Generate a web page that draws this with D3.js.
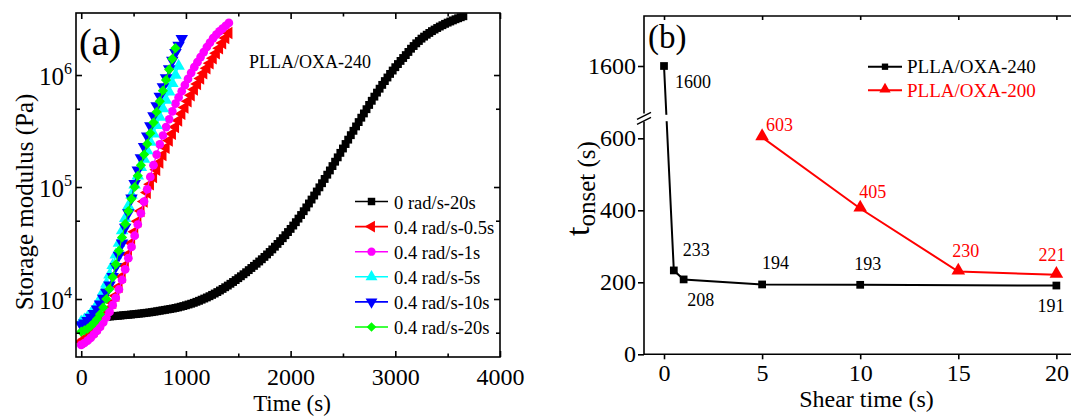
<!DOCTYPE html>
<html>
<head>
<meta charset="utf-8">
<script src="https://cdn.jsdelivr.net/npm/d3@7"></script>
<style>
  body { margin: 0; background: #fff; }
  svg { display: block; }
  text { font-family: "Liberation Serif", "Times New Roman", serif; fill: #000; }
</style>
</head>
<body>
<svg id="chart" width="1071" height="416"></svg>
<script>
const SERIF = '"Liberation Serif", "Times New Roman", serif';

// ---------------- Panel (a): storage modulus G' versus time ----------------
const seriesNames = ["0 rad/s-20s", "0.4 rad/s-0.5s", "0.4 rad/s-1s", "0.4 rad/s-5s", "0.4 rad/s-10s", "0.4 rad/s-20s"];

// time (s)
const time_0rad_20s = [250,275,300,325,350,375,400,425,450,475,500,525,550,575,600,625,650,675,700,725,750,775,800,825,850,875,900,925,950,975,1000,1025,1050,1075,1100,1125,1150,1175,1200,1225,1250,1275,1300,1325,1350,1375,1400,1425,1450,1475,1500,1525,1550,1575,1600,1625,1650,1675,1700,1725,1750,1775,1800,1825,1850,1875,1900,1925,1950,1975,2000,2025,2050,2075,2100,2125,2150,2175,2200,2225,2250,2275,2300,2325,2350,2375,2400,2425,2450,2475,2500,2525,2550,2575,2600,2625,2650,2675,2700,2725,2750,2775,2800,2825,2850,2875,2900,2925,2950,2975,3000,3025,3050,3075,3100,3125,3150,3175,3200,3225,3250,3275,3300,3325,3350,3375,3400,3425,3450,3475,3500,3525,3550,3575,3600,3625,3650];
const time_04_05s = [0,30,60,90,120,150,180,210,240,270,300,330,360,390,420,450,480,510,540,570,600,630,660,690,720,750,780,810,840,870,900,930,960,990,1020,1050,1080,1110,1140,1170,1200,1230,1260,1290,1320,1350,1380,1410];
const time_04_1s = [0,30,60,90,120,150,180,210,240,270,300,330,360,390,420,450,480,510,540,570,600,630,660,690,720,750,780,810,840,870,900,930,960,990,1020,1050,1080,1110,1140,1170,1200,1230,1260,1290,1320,1350,1380,1410];
const time_04_5s = [0,30,60,90,120,150,180,210,240,270,300,330,360,390,420,450,480,510,540,570,600,630,660,690,720,750,780,810,840,870,900,930];
const time_04_10s = [0,30,60,90,120,150,180,210,240,270,300,330,360,390,420,450,480,510,540,570,600,630,660,690,720,750,780,810,840,870,900,930,960];
const time_04_20s = [0,30,60,90,120,150,180,210,240,270,300,330,360,390,420,450,480,510,540,570,600,630,660,690,720,750,780,810,840,870,900];

// log10 of storage modulus G' (Pa)
const logG_0rad_20s = [3.842,3.844,3.846,3.848,3.850,3.852,3.855,3.857,3.859,3.861,3.864,3.866,3.869,3.871,3.874,3.877,3.880,3.883,3.887,3.891,3.895,3.899,3.903,3.907,3.911,3.915,3.920,3.925,3.931,3.937,3.944,3.951,3.958,3.966,3.975,3.984,3.994,4.004,4.014,4.025,4.037,4.049,4.062,4.076,4.090,4.105,4.120,4.136,4.152,4.169,4.186,4.203,4.221,4.239,4.258,4.277,4.296,4.315,4.335,4.355,4.376,4.398,4.420,4.443,4.467,4.492,4.517,4.543,4.570,4.598,4.626,4.656,4.686,4.718,4.750,4.784,4.818,4.853,4.888,4.924,4.960,4.997,5.034,5.072,5.110,5.148,5.187,5.226,5.265,5.305,5.344,5.384,5.423,5.463,5.502,5.541,5.580,5.619,5.657,5.695,5.733,5.770,5.807,5.843,5.878,5.912,5.946,5.978,6.010,6.040,6.070,6.098,6.126,6.152,6.178,6.206,6.235,6.259,6.283,6.304,6.325,6.343,6.360,6.376,6.392,6.406,6.420,6.433,6.445,6.457,6.468,6.478,6.488,6.498,6.507,6.516,6.525];
const logG_04_05s = [3.620,3.640,3.662,3.687,3.715,3.747,3.783,3.823,3.867,3.915,3.967,4.030,4.110,4.200,4.300,4.400,4.500,4.600,4.695,4.785,4.870,4.950,5.025,5.090,5.155,5.220,5.285,5.350,5.415,5.475,5.535,5.595,5.655,5.710,5.765,5.820,5.870,5.920,5.970,6.015,6.060,6.105,6.150,6.195,6.240,6.285,6.330,6.375];
const logG_04_1s = [3.590,3.607,3.628,3.653,3.683,3.715,3.750,3.790,3.835,3.885,3.945,4.010,4.085,4.170,4.265,4.365,4.465,4.565,4.665,4.765,4.870,4.980,5.090,5.195,5.290,5.380,5.460,5.535,5.605,5.675,5.745,5.800,5.855,5.910,5.965,6.020,6.070,6.115,6.160,6.205,6.250,6.290,6.330,6.360,6.390,6.415,6.440,6.465];
const logG_04_5s = [3.797,3.815,3.838,3.866,3.900,3.945,4.000,4.065,4.135,4.215,4.300,4.395,4.500,4.610,4.720,4.830,4.930,5.020,5.100,5.175,5.250,5.325,5.400,5.475,5.550,5.625,5.700,5.775,5.850,5.925,6.000,6.080];
const logG_04_10s = [3.768,3.785,3.808,3.835,3.870,3.910,3.955,4.005,4.060,4.125,4.200,4.290,4.390,4.500,4.640,4.770,4.900,5.030,5.150,5.260,5.360,5.455,5.545,5.635,5.725,5.810,5.895,5.975,6.055,6.130,6.200,6.265,6.325];
const logG_04_20s = [3.708,3.720,3.735,3.757,3.785,3.820,3.865,3.925,4.000,4.090,4.195,4.310,4.430,4.550,4.670,4.785,4.895,5.000,5.100,5.195,5.290,5.385,5.480,5.575,5.670,5.765,5.860,5.955,6.050,6.145,6.240];

const timeTicksA = [0, 1000, 2000, 3000, 4000];
const timeMinorA = [500, 1500, 2500, 3500];
const modulusTicksA = [1e4, 1e5, 1e6];
const modulusMinorA = [5e3, 5e4, 5e5];

// ---------------- Panel (b): onset time versus shear time ----------------
const shearTime240 = [0, 0.5, 1, 5, 10, 20];
const tOnset240 = [1600, 233, 208, 194, 193, 191];
const shearTime200 = [5, 10, 15, 20];
const tOnset200 = [603, 405, 230, 221];
const shearTicksB = [0, 5, 10, 15, 20];
const onsetTicksLowB = [0, 200, 400, 600];
const onsetTicksHighB = [1600];
const legendNamesB = ["PLLA/OXA-240", "PLLA/OXA-200"];

const svg = d3.select("#chart");
const AXIS_W = 1.6;

function styleAxis(g, fontSize) {
  g.attr("font-family", null).attr("font-size", null);
  g.select(".domain").remove();
  g.selectAll(".tick line").attr("stroke", "#000").attr("stroke-width", AXIS_W);
  g.selectAll(".tick text").attr("font-size", fontSize).attr("fill", "#000");
}

// ======================= Panel (a) =======================
const A = { left: 76, right: 500, top: 13, bottom: 357 };
const xA = d3.scaleLinear().domain([-50, 4000]).range([A.left, A.right]);
const yA = d3.scaleLog().domain([3035, 3.58e6]).range([A.bottom, A.top]);
const gA = svg.append("g");

svg.append("defs").append("clipPath").attr("id", "clipA")
  .append("rect").attr("x", A.left).attr("y", A.top)
  .attr("width", A.right - A.left).attr("height", A.bottom - A.top);

const styleA = [
  { color: "#000000", sym: d3.symbolSquare, size: 62, rot: 0 },
  { color: "#ff0000", sym: d3.symbolTriangle, size: 68, rot: -90 },
  { color: "#ff00ff", sym: d3.symbolCircle, size: 60, rot: 0 },
  { color: "#00ffff", sym: d3.symbolTriangle, size: 68, rot: 0 },
  { color: "#0000ff", sym: d3.symbolTriangle, size: 68, rot: 180 },
  { color: "#00ff00", sym: d3.symbolSquare, size: 52, rot: 45 }
];
const timesA = [time_0rad_20s, time_04_05s, time_04_1s, time_04_5s, time_04_10s, time_04_20s];
const logsA = [logG_0rad_20s, logG_04_05s, logG_04_1s, logG_04_5s, logG_04_10s, logG_04_20s];

const seriesA = seriesNames.map((name, i) => ({
  name,
  ...styleA[i],
  points: d3.zip(timesA[i], logsA[i]).map(([t, lg]) => ({ t, g: Math.pow(10, lg) }))
}));

const plotA = gA.append("g").attr("clip-path", "url(#clipA)");
const lineA = d3.line().x(d => xA(d.t)).y(d => yA(d.g));
seriesA.forEach(s => {
  const gs = plotA.append("g");
  gs.append("path").datum(s.points).attr("d", lineA)
    .attr("fill", "none").attr("stroke", s.color).attr("stroke-width", 1.2);
  gs.selectAll("path.m").data(s.points).join("path").attr("class", "m")
    .attr("d", d3.symbol().type(s.sym).size(s.size))
    .attr("transform", d => `translate(${xA(d.t)},${yA(d.g)}) rotate(${s.rot})`)
    .attr("fill", s.color);
});

// axes of panel (a): ticks point inward on all four sides
gA.append("g").attr("transform", `translate(0,${A.bottom})`)
  .call(d3.axisBottom(xA).tickValues(timeTicksA).tickSizeInner(-6).tickSizeOuter(0).tickPadding(11).tickFormat(d3.format("d")))
  .call(g => styleAxis(g, 24));
gA.append("g").attr("transform", `translate(0,${A.bottom})`)
  .call(d3.axisBottom(xA).tickValues(timeMinorA).tickSizeInner(-3.5).tickSizeOuter(0).tickFormat(""))
  .call(g => styleAxis(g, 24));
gA.append("g").attr("transform", `translate(0,${A.top})`)
  .call(d3.axisTop(xA).tickValues(timeTicksA).tickSizeInner(-6).tickSizeOuter(0).tickFormat(""))
  .call(g => styleAxis(g, 24));
gA.append("g").attr("transform", `translate(0,${A.top})`)
  .call(d3.axisTop(xA).tickValues(timeMinorA).tickSizeInner(-3.5).tickSizeOuter(0).tickFormat(""))
  .call(g => styleAxis(g, 24));

gA.append("g").attr("transform", `translate(${A.left},0)`)
  .call(d3.axisLeft(yA).tickValues(modulusTicksA).tickSizeInner(-6).tickSizeOuter(0).tickFormat(""))
  .call(g => styleAxis(g, 24));
gA.append("g").attr("transform", `translate(${A.left},0)`)
  .call(d3.axisLeft(yA).tickValues(modulusMinorA).tickSizeInner(-4).tickSizeOuter(0).tickFormat(""))
  .call(g => styleAxis(g, 24));
gA.append("g").attr("transform", `translate(${A.right},0)`)
  .call(d3.axisRight(yA).tickValues(modulusTicksA).tickSizeInner(-6).tickSizeOuter(0).tickFormat(""))
  .call(g => styleAxis(g, 24));
gA.append("g").attr("transform", `translate(${A.right},0)`)
  .call(d3.axisRight(yA).tickValues(modulusMinorA).tickSizeInner(-4).tickSizeOuter(0).tickFormat(""))
  .call(g => styleAxis(g, 24));

// power-of-ten labels
modulusTicksA.forEach(v => {
  const t = gA.append("text").attr("x", A.left - 4).attr("y", yA(v) + 10)
    .attr("text-anchor", "end").attr("font-size", 25);
  t.append("tspan").text("10");
  t.append("tspan").attr("font-size", 16).attr("dy", -11).text(Math.round(Math.log10(v)));
});

gA.append("rect").attr("x", A.left).attr("y", A.top)
  .attr("width", A.right - A.left).attr("height", A.bottom - A.top)
  .attr("fill", "none").attr("stroke", "#000").attr("stroke-width", AXIS_W);

gA.append("text").attr("x", 79).attr("y", 55).attr("font-size", 38).text("(a)");
gA.append("text").attr("x", 249).attr("y", 68).attr("font-size", 18).text("PLLA/OXA-240");
gA.append("text").attr("x", (A.left + A.right) / 2 + 4).attr("y", 411)
  .attr("text-anchor", "middle").attr("font-size", 23).text("Time (s)");
gA.append("text").attr("transform", `translate(33,${(A.top + A.bottom) / 2 + 17}) rotate(-90)`)
  .attr("text-anchor", "middle").attr("font-size", 25).text("Storage modulus (Pa)");

// legend of panel (a)
const legA = gA.append("g");
seriesA.forEach((s, i) => {
  const y = 201.5 + i * 25.1;
  legA.append("line").attr("x1", 355).attr("x2", 388).attr("y1", y).attr("y2", y)
    .attr("stroke", s.color).attr("stroke-width", 1.6);
  legA.append("path").attr("d", d3.symbol().type(s.sym).size(s.size * 0.9)())
    .attr("transform", `translate(371.5,${y}) rotate(${s.rot})`).attr("fill", s.color);
  legA.append("text").attr("x", 394).attr("y", y + 7).attr("font-size", 18.5).text(s.name);
});

// ======================= Panel (b) =======================
const B = { left: 644, right: 1076, top: 16, bottom: 354.3, breakY: 116.4 };
const xB = d3.scaleLinear().domain([-1.02, 21]).range([B.left, B.right]);
// broken y axis: lower segment and upper segment share one scale factor
const yLowB = d3.scaleLinear().domain([0, 660]).range([B.bottom, B.bottom - 660 * 0.36]);
const yHighB = d3.scaleLinear().domain([1460, 1738]).range([B.breakY, B.breakY - 278 * 0.36]);
const yB = v => (v >= 1000 ? yHighB(v) : yLowB(v));
const gB = svg.append("g");

const pts240 = d3.zip(shearTime240, tOnset240).map(([s, v]) => ({ s, v }));
const pts200 = d3.zip(shearTime200, tOnset200).map(([s, v]) => ({ s, v }));
const lineB = d3.line().x(d => xB(d.s)).y(d => yB(d.v));

gB.append("path").datum(pts240).attr("d", lineB).attr("fill", "none")
  .attr("stroke", "#000").attr("stroke-width", 2);
gB.append("path").datum(pts200).attr("d", lineB).attr("fill", "none")
  .attr("stroke", "#ff0000").attr("stroke-width", 2);

// gap where the curve crosses the axis break
gB.append("rect").attr("x", B.left + 2).attr("y", B.breakY - 1.6)
  .attr("width", 60).attr("height", 6.4).attr("fill", "#fff");

gB.selectAll("path.m240").data(pts240).join("path").attr("class", "m240")
  .attr("d", d3.symbol().type(d3.symbolSquare).size(60))
  .attr("transform", d => `translate(${xB(d.s)},${yB(d.v)})`).attr("fill", "#000");
gB.selectAll("path.m200").data(pts200).join("path").attr("class", "m200")
  .attr("d", d3.symbol().type(d3.symbolTriangle).size(80))
  .attr("transform", d => `translate(${xB(d.s)},${yB(d.v) - 1})`).attr("fill", "#ff0000");

// value labels (offsets from each marker)
const labelOffset240 = [[11, 22], [9, -14], [3.5, 27], [0, -15.5], [-6, -15], [-19, 26.5]];
const labelOffset200 = [[4, -6], [-1, -10.5], [-6, -14.5], [-18, -14]];
pts240.forEach((d, i) => {
  gB.append("text").attr("x", xB(d.s) + labelOffset240[i][0]).attr("y", yB(d.v) + labelOffset240[i][1])
    .attr("font-size", 18).text(d.v);
});
pts200.forEach((d, i) => {
  gB.append("text").attr("x", xB(d.s) + labelOffset200[i][0]).attr("y", yB(d.v) + labelOffset200[i][1])
    .attr("font-size", 18).style("fill", "#ff0000").text(d.v);
});

// axes of panel (b)
gB.append("g").attr("transform", `translate(0,${B.bottom})`)
  .call(d3.axisBottom(xB).tickValues(shearTicksB).tickSizeInner(5).tickSizeOuter(0).tickPadding(5).tickFormat(d3.format("d")))
  .call(g => styleAxis(g, 24));
gB.append("g").attr("transform", `translate(0,${B.top})`)
  .call(d3.axisTop(xB).tickValues(shearTicksB).tickSizeInner(-4).tickSizeOuter(0).tickFormat(""))
  .call(g => styleAxis(g, 24));
gB.append("g").attr("transform", `translate(${B.left},0)`)
  .call(d3.axisLeft(yLowB).tickValues(onsetTicksLowB).tickSizeInner(6).tickSizeOuter(0).tickPadding(2).tickFormat(d3.format("d")))
  .call(g => styleAxis(g, 24));
gB.append("g").attr("transform", `translate(${B.left},0)`)
  .call(d3.axisLeft(yHighB).tickValues(onsetTicksHighB).tickSizeInner(6).tickSizeOuter(0).tickPadding(2).tickFormat(d3.format("d")))
  .call(g => styleAxis(g, 24));

// frame (right side lies beyond the visible area)
gB.append("path")
  .attr("d", `M${B.right},${B.top}H${B.left}V${B.breakY - 3}M${B.left},${B.breakY + 5}V${B.bottom}H${B.right}`)
  .attr("fill", "none").attr("stroke", "#000").attr("stroke-width", AXIS_W);
// axis break marks
[0, 5].forEach(o => {
  gB.append("line").attr("x1", B.left - 7).attr("y1", B.breakY + 3 + o)
    .attr("x2", B.left + 7).attr("y2", B.breakY - 4 + o)
    .attr("stroke", "#000").attr("stroke-width", 1.5);
});

gB.append("text").attr("x", 648).attr("y", 48).attr("font-size", 33).text("(b)");
gB.append("text").attr("x", 866.5).attr("y", 406.5).attr("text-anchor", "middle")
  .attr("font-size", 24).text("Shear time (s)");
const yTitleB = gB.append("text").attr("transform", "translate(589,236) rotate(-90)").attr("font-size", 34);
yTitleB.append("tspan").text("t");
yTitleB.append("tspan").attr("font-size", 25).attr("dy", 6).text("onset");
yTitleB.append("tspan").attr("font-size", 25).text(" (s)");

// legend of panel (b)
const legB = gB.append("g");
[
  { color: "#000", sym: d3.symbolSquare, size: 40, dy: 0 },
  { color: "#ff0000", sym: d3.symbolTriangle, size: 55, dy: -1 }
].forEach((e, i) => {
  const y = 66.7 + i * 23.5;
  legB.append("line").attr("x1", 868).attr("x2", 902).attr("y1", y).attr("y2", y)
    .attr("stroke", e.color).attr("stroke-width", 2);
  legB.append("path").attr("d", d3.symbol().type(e.sym).size(e.size)())
    .attr("transform", `translate(885,${y + e.dy})`).attr("fill", e.color);
  legB.append("text").attr("x", 907).attr("y", y + 6.5).attr("font-size", 19)
    .style("fill", e.color).text(legendNamesB[i]);
});

// every label uses the serif face
svg.selectAll("text").style("font-family", SERIF);
</script>
</body>
</html>
